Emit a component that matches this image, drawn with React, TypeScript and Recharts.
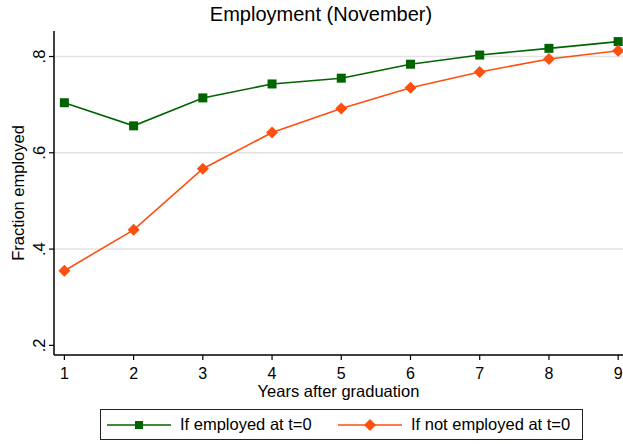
import React from 'react';
import { LineChart, Line, XAxis, YAxis, ReferenceLine } from 'recharts';

const years = [1, 2, 3, 4, 5, 6, 7, 8, 9];
const employedAtT0 = [0.704, 0.656, 0.714, 0.743, 0.755, 0.784, 0.803, 0.817, 0.831];
const notEmployedAtT0 = [0.355, 0.44, 0.567, 0.642, 0.692, 0.735, 0.768, 0.795, 0.812];
const yTicks = [0.2, 0.4, 0.6, 0.8];
const yTickLabels = ['.2', '.4', '.6', '.8'];
const gridValues = [0.4, 0.6, 0.8];
const seriesNames = ['If employed at t=0', 'If not employed at t=0'];

const data = years.map((y, i) => ({ year: y, emp: employedAtT0[i], notEmp: notEmployedAtT0[i] }));

const FONT = '"Liberation Sans", Arial, Helvetica, sans-serif';
const GREEN = '#006400';
const ORANGE = '#FF4F0F';

const SquareDot = (props: any) => {
  const { cx, cy } = props;
  if (cx == null || cy == null) return null;
  return <rect x={cx - 4.5} y={cy - 4.5} width={9} height={9} fill={GREEN} />;
};

const DiamondDot = (props: any) => {
  const { cx, cy } = props;
  if (cx == null || cy == null) return null;
  const r = 6;
  return (
    <polygon
      points={`${cx},${cy - r} ${cx + r},${cy} ${cx},${cy + r} ${cx - r},${cy}`}
      fill={ORANGE}
    />
  );
};

const XTick = (props: any) => {
  const { x, y, payload } = props;
  return (
    <text x={x} y={y + 17} textAnchor="middle" fontSize={16} fontFamily={FONT} fill="#000">
      {payload.value}
    </text>
  );
};

const YTick = (props: any) => {
  const { x, y, payload } = props;
  const idx = yTicks.indexOf(payload.value);
  const label = idx >= 0 ? yTickLabels[idx] : String(payload.value);
  const tx = x - 2;
  return (
    <text
      x={tx}
      y={y}
      textAnchor="middle"
      fontSize={16.5}
      fontFamily={FONT}
      fill="#000"
      transform={`rotate(-90, ${tx}, ${y})`}
    >
      {label}
    </text>
  );
};

const LegendMarker = ({ color, kind }: { color: string; kind: 'square' | 'diamond' }) => (
  <svg width={64} height={14} style={{ display: 'block' }}>
    <line x1={0} y1={7} x2={64} y2={7} stroke={color} strokeWidth={1.5} />
    {kind === 'square' ? (
      <rect x={28} y={3} width={8} height={8} fill={color} />
    ) : (
      <polygon points="32,1 38,7 32,13 26,7" fill={color} />
    )}
  </svg>
);

export default function App() {
  return (
    <div style={{ position: 'absolute', left: 0, top: 0, width: 623, height: 444, background: '#fff', fontFamily: FONT }}>
      <div
        style={{
          position: 'absolute',
          left: 0,
          top: 0,
          width: 642,
          textAlign: 'center',
          fontSize: 20,
          lineHeight: '28px',
          color: '#000',
          whiteSpace: 'nowrap',
        }}
      >
        Employment (November)
      </div>
      <LineChart
        width={623}
        height={444}
        data={data}
        margin={{ top: 31, right: 0, bottom: 59, left: 0 }}
        style={{ position: 'absolute', left: 0, top: 0 }}
      >
        {gridValues.map((g) => (
          <ReferenceLine key={g} y={g} stroke="#e3e3e3" strokeWidth={1.5} />
        ))}
        <XAxis
          dataKey="year"
          type="number"
          domain={[0.85, 9.07]}
          ticks={years}
          allowDataOverflow
          interval={0}
          height={30}
          axisLine={{ stroke: '#000', strokeWidth: 1.5 }}
          tickLine={{ stroke: '#000', strokeWidth: 1.2 }}
          tickSize={5}
          tick={<XTick />}
          label={{
            value: 'Years after graduation',
            position: 'insideBottom',
            content: (p: any) => {
              const vb = p.viewBox;
              return (
                <text
                  x={vb.x + vb.width / 2}
                  y={vb.y + 42}
                  textAnchor="middle"
                  fontSize={16.5}
                  fontFamily={FONT}
                  fill="#000"
                >
                  Years after graduation
                </text>
              );
            },
          }}
        />
        <XAxis
          xAxisId="top"
          orientation="top"
          type="number"
          domain={[0.85, 9.07]}
          tick={false}
          tickLine={false}
          height={0}
          axisLine={{ stroke: '#000', strokeWidth: 1.5 }}
        />
        <YAxis
          type="number"
          domain={[0.18, 0.853]}
          ticks={yTicks}
          allowDataOverflow
          width={54}
          interval={0}
          axisLine={{ stroke: '#000', strokeWidth: 1.5 }}
          tickLine={{ stroke: '#000', strokeWidth: 1.2 }}
          tickSize={5}
          tick={<YTick />}
          label={{
            value: 'Fraction employed',
            content: (p: any) => {
              const vb = p.viewBox;
              const cx = 24;
              const cy = vb.y + vb.height / 2;
              return (
                <text
                  x={cx}
                  y={cy}
                  textAnchor="middle"
                  fontSize={16.5}
                  fontFamily={FONT}
                  fill="#000"
                  transform={`rotate(-90, ${cx}, ${cy})`}
                >
                  Fraction employed
                </text>
              );
            },
          }}
        />
        <Line
          dataKey="emp"
          name={seriesNames[0]}
          stroke={GREEN}
          strokeWidth={1.6}
          dot={<SquareDot />}
          activeDot={false}
          isAnimationActive={false}
        />
        <Line
          dataKey="notEmp"
          name={seriesNames[1]}
          stroke={ORANGE}
          strokeWidth={1.6}
          dot={<DiamondDot />}
          activeDot={false}
          isAnimationActive={false}
        />
      </LineChart>
      <div
        style={{
          position: 'absolute',
          left: 100,
          top: 409,
          width: 483,
          height: 31,
          border: '1px solid #222',
          display: 'flex',
          alignItems: 'center',
          fontSize: 16.5,
          color: '#000',
          boxSizing: 'border-box',
          whiteSpace: 'nowrap',
        }}
      >
        <div style={{ marginLeft: 6, flex: 'none' }}>
          <LegendMarker color={GREEN} kind="square" />
        </div>
        <div style={{ marginLeft: 9, flex: 'none' }}>{seriesNames[0]}</div>
        <div style={{ marginLeft: 0, flex: 'none', position: 'absolute', left: 237 }}>
          <LegendMarker color={ORANGE} kind="diamond" />
        </div>
        <div style={{ flex: 'none', position: 'absolute', left: 310 }}>{seriesNames[1]}</div>
      </div>
    </div>
  );
}
